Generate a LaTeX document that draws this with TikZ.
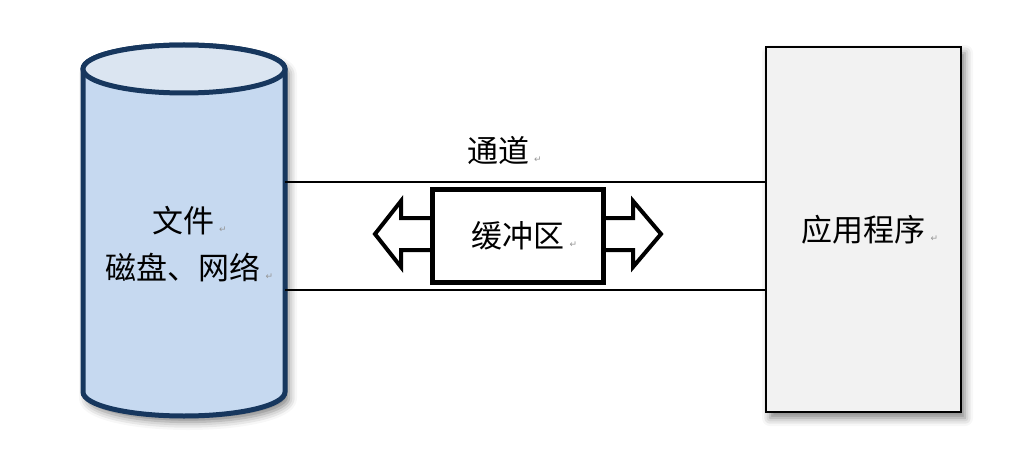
\documentclass[tikz,border=0pt]{standalone}
\usepackage{fontspec}
\newfontfamily\cjkfont{Noto Sans CJK SC}
\newfontfamily\markfont{DejaVu Sans}
\usetikzlibrary{positioning,calc,shadows.blur}
\definecolor{diskedge}{RGB}{23,55,94}
\definecolor{diskside}{RGB}{198,217,240}
\definecolor{disktop}{RGB}{219,229,241}
\definecolor{appgray}{RGB}{242,242,242}
\definecolor{markgray}{RGB}{150,150,150}
\newcommand{\parmark}{\rlap{\,\markfont\fontsize{9}{9}\selectfont\textcolor{markgray}{↵}}}
\tikzset{
  disque/.style={draw=diskedge, line width=5pt, fill=diskside},
  ombre/.style={blur shadow={shadow xshift=4pt, shadow yshift=-6pt, shadow blur radius=8pt, shadow opacity=50}},
  texte/.style={font=\cjkfont\fontsize{31}{47}\selectfont, align=center, inner sep=0pt},
  tampon/.style={draw=black, line width=5pt, fill=white, inner sep=0pt, minimum width=171pt, minimum height=93pt, texte},
  appli/.style={draw=black, line width=2.2pt, fill=appgray, inner sep=0pt, minimum width=195pt, minimum height=365pt, texte},
  canal/.style={draw=black, line width=1.8pt},
  fleche/.style={draw=black, line width=4pt, fill=white, line join=miter},
}
\begin{document}
\begin{tikzpicture}[x=1pt, y=-1pt]
    \useasboundingbox (0,0) rectangle (1032,473);
    % Disque (cylindre)
    \draw[disque, ombre] (83,69) -- (83,392) arc[start angle=180, end angle=0, x radius=101, y radius=24]
      -- (285,69) arc[start angle=0, end angle=-180, x radius=101, y radius=24] -- cycle;
    \draw[disque, fill=disktop] (184,69) ellipse[x radius=101, y radius=24];
    \node[inner sep=0pt, minimum width=202pt, minimum height=323pt] (disk) at (184,230.5) {};
    \node[texte] (disklabel) at (183,244) {文件\parmark\\磁盘、网络\parmark};
    % Application
    \node[appli, ombre] (app) at (863.5,229.5) {应用程序\parmark};
    % Canal
    \coordinate (chtop) at (0,182);
    \coordinate (chbot) at (0,290);
    \draw[canal] (disk.east |- chtop) -- (app.west |- chtop);
    \draw[canal] (disk.east |- chbot) -- (app.west |- chbot);
    \node[texte] (chlabel) at (498,151) {通道\parmark};
    % Fleches du tampon
    \draw[fleche] (431,218) -- (401,218) -- (401,201) -- (375,234) -- (401,267) -- (401,250) -- (431,250);
    \draw[fleche] (605,218) -- (633,218) -- (633,201) -- (661,234) -- (633,267) -- (633,250) -- (605,250);
    % Tampon
    \node[tampon] (buf) at (518,236) {缓冲区\parmark};
  \end{tikzpicture}
\end{document}
